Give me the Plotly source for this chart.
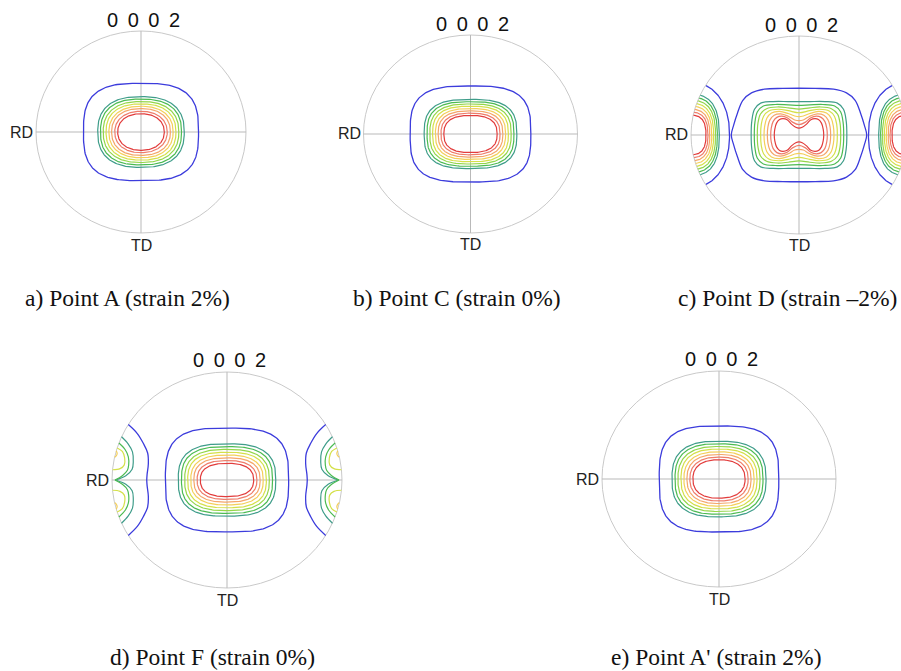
import numpy as np
import plotly.graph_objects as go

# ---------------- data (pole-figure radius = 1) ----------------
POLE_LABEL = "0\u2009 0\u2009 0\u2009 2"
CAPTIONS = ["a) Point A (strain 2%)", "b) Point C (strain 0%)", "c) Point D (strain \u20132%)",
            "d) Point F (strain 0%)", "e) Point A' (strain 2%)"]
# contour levels, outermost (blue) to innermost (red)
LEVEL_COLORS = ["#3c3cdc", "#3f9d8a", "#4cbb52", "#94d64a", "#d4e04a",
                "#f4cf5a", "#f4a66a", "#ee7c6a", "#e23c3c"]

# central maxima: half-width, half-height, squareness exponent per level
A_HW = [0.548, 0.412, 0.386, 0.360, 0.333, 0.306, 0.280, 0.250, 0.222]
A_HH = [0.482, 0.350, 0.326, 0.302, 0.278, 0.255, 0.232, 0.205, 0.181]
A_N = [3.0, 2.5, 2.5, 2.4, 2.4, 2.3, 2.3, 2.2, 2.2]

B_HW = [0.564, 0.433, 0.406, 0.380, 0.354, 0.328, 0.302, 0.276, 0.249]
B_HH = [0.485, 0.349, 0.326, 0.303, 0.280, 0.257, 0.233, 0.210, 0.187]
B_N = [3.2, 2.9, 2.9, 2.8, 2.8, 2.7, 2.7, 2.6, 2.6]

D_HW = [0.536, 0.424, 0.396, 0.368, 0.342, 0.315, 0.288, 0.260, 0.232]
D_HH = [0.481, 0.335, 0.309, 0.283, 0.257, 0.231, 0.205, 0.180, 0.154]
D_N = [3.2, 2.8, 2.8, 2.7, 2.7, 2.6, 2.6, 2.5, 2.5]

E_HW = [0.511, 0.402, 0.376, 0.351, 0.325, 0.300, 0.274, 0.249, 0.223]
E_HH = [0.491, 0.350, 0.326, 0.301, 0.277, 0.252, 0.227, 0.203, 0.178]
E_N = [3.2, 2.7, 2.7, 2.6, 2.6, 2.5, 2.5, 2.4, 2.4]

# panel c central contours: first-quadrant outline points (x, y)
C_CENTRAL = [
    [(0.627, 0), (0.605, 0.10), (0.57, 0.22), (0.52, 0.35), (0.44, 0.425), (0.32, 0.463), (0.15, 0.47), (0, 0.472)],
    [(0.443, 0), (0.437, 0.14), (0.412, 0.26), (0.355, 0.322), (0.24, 0.338), (0.10, 0.338), (0, 0.337)],
    [(0.414, 0), (0.408, 0.13), (0.385, 0.235), (0.33, 0.293), (0.22, 0.308), (0.10, 0.304), (0, 0.300)],
    [(0.386, 0), (0.380, 0.12), (0.358, 0.21), (0.30, 0.266), (0.20, 0.283), (0.10, 0.275), (0, 0.262)],
    [(0.355, 0), (0.349, 0.11), (0.328, 0.19), (0.28, 0.243), (0.19, 0.260), (0.10, 0.246), (0, 0.225)],
    [(0.324, 0), (0.318, 0.09), (0.298, 0.17), (0.255, 0.222), (0.18, 0.238), (0.10, 0.217), (0.04, 0.192), (0, 0.185)],
    [(0.293, 0), (0.288, 0.08), (0.27, 0.15), (0.23, 0.200), (0.17, 0.214), (0.10, 0.190), (0.04, 0.152), (0, 0.145)],
    [(0.262, 0), (0.257, 0.07), (0.24, 0.135), (0.205, 0.178), (0.16, 0.190), (0.11, 0.175), (0.06, 0.130), (0, 0.105)],
    [(0.229, 0), (0.224, 0.06), (0.208, 0.12), (0.18, 0.156), (0.15, 0.165), (0.11, 0.155), (0.07, 0.110), (0.03, 0.078), (0, 0.07)],
]
# panel c peripheral maxima at RD (centred on the rim): inner reach x0, half-height, exponent
C_SIDE_X0 = [0.643, 0.738, 0.756, 0.773, 0.791, 0.808, 0.826, 0.843, 0.861]
C_SIDE_H = [0.53, 0.41, 0.38, 0.35, 0.32, 0.29, 0.26, 0.23, 0.20]
C_SIDE_N = [2.2, 2.6, 2.6, 2.6, 2.6, 2.6, 2.6, 2.6, 2.6]

# panel d peripheral contours (left side, upper half), colour index into LEVEL_COLORS
D_SIDE = [
    (0, [(-0.858, 0.513), (-0.78, 0.43), (-0.728, 0.34), (-0.69, 0.25), (-0.684, 0.15), (-0.695, 0.05), (-0.698, 0)]),
    (1, [(-0.917, 0.40), (-0.86, 0.335), (-0.822, 0.26), (-0.815, 0.17), (-0.825, 0.10), (-0.88, 0.04), (-0.97, 0)]),
    (2, [(-0.94, 0.342), (-0.885, 0.28), (-0.858, 0.215), (-0.855, 0.14), (-0.866, 0.09), (-0.91, 0.04), (-0.975, 0)]),
    (4, [(-0.955, 0.297), (-0.91, 0.265), (-0.89, 0.205), (-0.893, 0.14), (-0.93, 0.105), (-0.995, 0.095)]),
    (5, [(-0.963, 0.27), (-0.955, 0.245), (-0.965, 0.22), (-0.976, 0.212)]),
]

# ---------------- layout geometry (pixels in the 901x671 page) ----------------
GEOM = [  # cx, cy, rx, ry
    (141.0, 132.0, 105.0, 101.0),
    (470.5, 134.0, 107.0, 99.0),
    (799.0, 135.0, 108.0, 99.0),
    (227.0, 480.0, 115.0, 108.0),
    (719.0, 479.0, 117.0, 108.0),
]
# caption anchor point (page px) and horizontal anchor
CAPTION_POS = [(127.5, 298, "center"), (457, 298, "center"), (898, 298, "right"),
               (212.5, 657, "center"), (716, 657, "center")]
W, H = 901, 671
PAD = 1.15


def superellipse(hw, hh, n, m=240):
    t = np.linspace(0, 2 * np.pi, m)
    c, s = np.cos(t), np.sin(t)
    return hw * np.sign(c) * np.abs(c) ** (2 / n), hh * np.sign(s) * np.abs(s) ** (2 / n)


def mirror_quadrant(pts):
    q = list(pts)
    q2 = [(-x, y) for x, y in reversed(q)][1:]
    q3 = [(-x, -y) for x, y in q][1:]
    q4 = [(x, -y) for x, y in reversed(q)][1:]
    allp = q + q2 + q3 + q4
    return [p[0] for p in allp], [p[1] for p in allp]


def rim_lobe(sgn, x0, h, n, m=200):
    w = 1 - x0
    t = np.linspace(-np.pi / 2, np.pi / 2, m)
    c, s = np.cos(t), np.sin(t)
    x = sgn * (1 - w * np.abs(c) ** (2 / n))
    y = h * np.sign(s) * np.abs(s) ** (2 / n)
    keep = x ** 2 + y ** 2 <= 1.0
    return x[keep], y[keep]


fig = go.Figure()
shapes, annotations = [], []
layout_axes = {}

for i, (cx, cy, rx, ry) in enumerate(GEOM):
    k = "" if i == 0 else str(i + 1)
    xr, yr = "x" + k, "y" + k
    x0p = max(0.0, cx - PAD * rx)
    x1p = min(float(W), cx + PAD * rx)
    y0p = cy + PAD * ry
    y1p = cy - PAD * ry
    layout_axes["xaxis" + k] = dict(domain=[x0p / W, x1p / W],
                                    range=[(x0p - cx) / rx, (x1p - cx) / rx],
                                    visible=False, fixedrange=True, anchor=yr)
    layout_axes["yaxis" + k] = dict(domain=[(H - y0p) / H, (H - y1p) / H], range=[-PAD, PAD],
                                    visible=False, fixedrange=True, anchor=xr)
    shapes.append(dict(type="circle", xref=xr, yref=yr, x0=-1, x1=1, y0=-1, y1=1,
                       line=dict(color="#c9c9c9", width=1), layer="below"))
    shapes.append(dict(type="line", xref=xr, yref=yr, x0=-1, x1=1, y0=0, y1=0,
                       line=dict(color="#b9b9b9", width=1), layer="below"))
    shapes.append(dict(type="line", xref=xr, yref=yr, x0=0, x1=0, y0=-1, y1=1,
                       line=dict(color="#b9b9b9", width=1), layer="below"))
    annotations.append(dict(x=0.02, y=1.11, xref=xr, yref=yr, text=POLE_LABEL, showarrow=False,
                            xanchor="center", yanchor="middle",
                            font=dict(family="Liberation Sans, Arial", size=20, color="#111111")))
    annotations.append(dict(x=-1.015, y=0, xref=xr, yref=yr, text="RD", showarrow=False,
                            xanchor="right", yanchor="middle", borderpad=0,
                            font=dict(family="Liberation Sans, Arial", size=16, color="#222222")))
    annotations.append(dict(x=0, y=-1.12, xref=xr, yref=yr, text="TD", showarrow=False,
                            xanchor="center", yanchor="middle",
                            font=dict(family="Liberation Sans, Arial", size=16, color="#222222")))
    px, py, anc = CAPTION_POS[i]
    annotations.append(dict(x=px / W, y=(H - py) / H, xref="paper", yref="paper",
                            text=CAPTIONS[i], showarrow=False, xanchor=anc, yanchor="middle",
                            borderpad=0,
                            font=dict(family="Liberation Serif, Times New Roman", size=23.5,
                                      color="#111111")))


def add_line(x, y, axis_i, color, width=1.2, spline=False):
    k = "" if axis_i == 0 else str(axis_i + 1)
    fig.add_trace(go.Scatter(x=list(x), y=list(y), mode="lines", xaxis="x" + k, yaxis="y" + k,
                             line=dict(color=color, width=width, shape="spline" if spline else "linear"),
                             hoverinfo="skip", showlegend=False))


# central maxima for panels a, b, d, e
for axis_i, (hws, hhs, ns) in zip([0, 1, 3, 4], [(A_HW, A_HH, A_N), (B_HW, B_HH, B_N),
                                                  (D_HW, D_HH, D_N), (E_HW, E_HH, E_N)]):
    for lvl, (hw, hh, n) in enumerate(zip(hws, hhs, ns)):
        x, y = superellipse(hw, hh, n)
        add_line(x, y, axis_i, LEVEL_COLORS[lvl], 1.3 if lvl == 0 else 1.2)

# panel c central
for lvl, pts in enumerate(C_CENTRAL):
    x, y = mirror_quadrant(pts)
    add_line(x, y, 2, LEVEL_COLORS[lvl], 1.3 if lvl == 0 else 1.2, spline=True)

# panel c rim maxima (both sides)
for sgn in (-1, 1):
    for lvl, (x0, h, n) in enumerate(zip(C_SIDE_X0, C_SIDE_H, C_SIDE_N)):
        x, y = rim_lobe(sgn, x0, h, n)
        add_line(x, y, 2, LEVEL_COLORS[lvl], 1.3 if lvl == 0 else 1.2)

# panel d rim contours (both sides, mirrored halves)
for sgn in (-1, 1):
    for ci, pts in D_SIDE:
        xs = [p[0] if sgn == -1 else -p[0] for p in pts]
        ys = [p[1] for p in pts]
        wd = 1.3 if ci == 0 else 1.2
        add_line(xs, ys, 3, LEVEL_COLORS[ci], wd, spline=True)
        add_line(xs, [-v for v in ys], 3, LEVEL_COLORS[ci], wd, spline=True)

fig.update_layout(width=W, height=H, margin=dict(l=0, r=0, t=0, b=0),
                  paper_bgcolor="white", plot_bgcolor="white",
                  shapes=shapes, annotations=annotations, showlegend=False, **layout_axes)

fig.write_html("out.html", config={"displayModeBar": False},
               post_script="document.body.style.margin='0';document.body.style.overflow='hidden';")
